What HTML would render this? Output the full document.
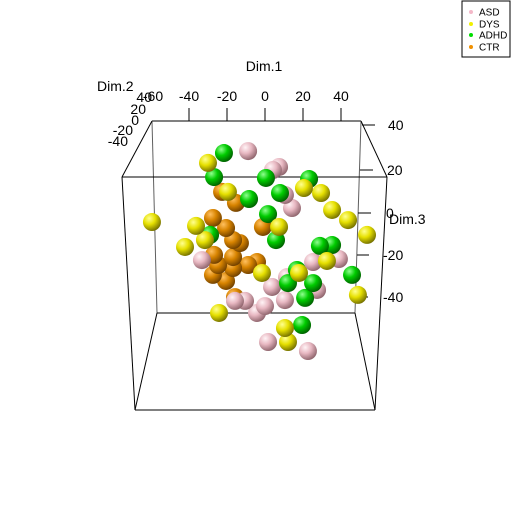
<!DOCTYPE html>
<html><head><meta charset="utf-8"><style>
html,body{margin:0;padding:0;background:#fff}
svg{display:block;font-family:"Liberation Sans",sans-serif}
</style></head><body>
<svg id="chart" width="512" height="512" viewBox="0 0 512 512">
<defs>
<radialGradient id="g-ASD" cx="0.35" cy="0.3" r="0.75"><stop offset="0" stop-color="#fff4f6"/><stop offset="0.45" stop-color="#e8b8c2"/><stop offset="1" stop-color="#8a6068"/></radialGradient>
<radialGradient id="g-DYS" cx="0.35" cy="0.3" r="0.75"><stop offset="0" stop-color="#ffff90"/><stop offset="0.45" stop-color="#e6e000"/><stop offset="1" stop-color="#6e6a00"/></radialGradient>
<radialGradient id="g-ADHD" cx="0.35" cy="0.3" r="0.75"><stop offset="0" stop-color="#90ff90"/><stop offset="0.45" stop-color="#00cc00"/><stop offset="1" stop-color="#005a00"/></radialGradient>
<radialGradient id="g-CTR" cx="0.35" cy="0.3" r="0.75"><stop offset="0" stop-color="#ffc060"/><stop offset="0.45" stop-color="#d88400"/><stop offset="1" stop-color="#6a3c00"/></radialGradient>
</defs>
<g fill="none">
<line x1="152" y1="121" x2="361" y2="121" stroke="#808080" stroke-width="2"/>
<line x1="152" y1="121" x2="157" y2="313" stroke="#606060"/>
<line x1="361" y1="121" x2="355" y2="313" stroke="#606060"/>
<line x1="157" y1="313" x2="355" y2="313" stroke="#000"/>
<line x1="122" y1="177" x2="387" y2="177" stroke="#000"/>
<line x1="122" y1="177" x2="135" y2="410" stroke="#000"/>
<line x1="387" y1="177" x2="375" y2="410" stroke="#000"/>
<line x1="135" y1="410" x2="375" y2="410" stroke="#000"/>
<line x1="152" y1="121" x2="122" y2="177" stroke="#000"/>
<line x1="361" y1="121" x2="387" y2="177" stroke="#000"/>
<line x1="157" y1="313" x2="135" y2="410" stroke="#000"/>
<line x1="355" y1="313" x2="375" y2="410" stroke="#000"/>
</g>
<g id="axes" font-size="14" fill="#000"></g>
<g id="points"></g>
<g>
<rect x="462" y="1" width="48" height="56" fill="#fff" stroke="#000"/>
<g font-size="10">
<circle cx="471" cy="12" r="2" fill="#f4b8c8"/><text x="479" y="15.5">ASD</text>
<circle cx="471" cy="24" r="2" fill="#f0f000"/><text x="479" y="27.5">DYS</text>
<circle cx="471" cy="35" r="2" fill="#00dd00"/><text x="479" y="38.5">ADHD</text>
<circle cx="471" cy="47" r="2" fill="#f09000"/><text x="479" y="50.5">CTR</text>
</g></g>
</svg>
<script>
const dim1 = [-21.6,-8.9,-30,4.2,7.4,-26.8,0.5,23.2,20.5,29.5,-22.6,-19.5,-8.4,7.9,10.5,-15.3,14.2,35.3,1.6,-59.5,-27.4,43.7,-36.3,-1.1,7.4,-20.5,-28.9,-31.6,5.8,-16.8,-13.2,53.7,28.9,35.3,-42.1,-26.8,-16.8,-33.2,25.3,32.6,38.9,-24.7,-16.8,-8.9,-4.2,-27.4,-1.6,16.8,17.9,11.6,45.8,-20.5,3.7,12.1,25.3,27.4,48.9,21.1,10.5,-15.8,-15.8,-10.5,0,-4.2,-24.2,19.5,10.5,1.6,12.1,22.6];
const dim3 = [27.9,28.8,23.3,20,21.4,16.7,16.3,15.8,11.6,9.3,9.8,9.8,6.5,9.3,8.4,4.7,2.3,1.4,-0.5,-4.2,-2.3,-3.3,-6,-6.5,-6.5,-7,-10.2,-12.6,-12.6,-12.6,-14,-10.2,-15.3,-14.9,-15.8,-19.5,-20.5,-21.9,-22.8,-22.3,-21.4,-24.2,-25.6,-24.2,-22.8,-28.8,-27.9,-26.5,-27.9,-29.8,-28.8,-31.6,-34.4,-32.6,-32.6,-35.8,-38.1,-39.5,-40.5,-39.1,-40.9,-40.9,-43.3,-46.5,-46.5,-52.1,-53.5,-60,-60,-64.2];
const groups = ["ADHD","ASD","DYS","ASD","ASD","ADHD","ADHD","ADHD","DYS","DYS","CTR","DYS","ADHD","ADHD","ASD","CTR","ASD","DYS","ADHD","DYS","CTR","DYS","DYS","CTR","DYS","CTR","ADHD","DYS","ADHD","CTR","CTR","DYS","ADHD","ADHD","DYS","CTR","CTR","ASD","ASD","DYS","ASD","CTR","CTR","CTR","CTR","CTR","DYS","ADHD","DYS","ASD","ADHD","CTR","ASD","ADHD","ADHD","ASD","DYS","ADHD","ASD","CTR","ASD","ASD","ASD","ASD","DYS","ADHD","DYS","ASD","DYS","ASD"];
const xTicks = [-60,-40,-20,0,20,40];
const yTicks = [40,20,0,-20,-40];
const zTicks = [40,20,0,-20,-40];
const xs = v => 265 + v*1.9;
const zs = v => 213 - v*2.15;
const NS="http://www.w3.org/2000/svg";
const ax=document.getElementById('axes');
function mk(tag,attrs,parent){const e=document.createElementNS(NS,tag);for(const k in attrs)e.setAttribute(k,attrs[k]);parent.appendChild(e);return e;}
xTicks.forEach(t=>{
  const x=xs(t);
  if(t>-60){const l=mk('line',{x1:x,y1:108,x2:x,y2:121,stroke:'#000'},ax);
  
  }
  const tx=mk('text',{x:t===-60?x+2:x,y:101,'text-anchor':'middle'},ax);tx.textContent=t;
  
  
});
yTicks.forEach((t,i)=>{
  const tx=mk('text',{x:[152,146,139,133,128][i],y:[102,114,125,135,146][i],'text-anchor':'end'},ax);tx.textContent=t;
  
  
});
zTicks.forEach((t,i)=>{
  const yy=[125,170,213,255,297][i];
  const l=mk('line',{x1:[362,360,358,357,356][i],y1:yy,x2:[375,373,371,369,368][i],y2:yy,stroke:'#000'},ax);
  
  
  const tx=mk('text',{x:[388,387,386,383,383][i],y:yy+5},ax);tx.textContent=t;
  
  
});
const t1=mk('text',{x:264,y:71,'text-anchor':'middle'},ax);t1.textContent='Dim.1';


const t2=mk('text',{x:97,y:91},ax);t2.textContent='Dim.2';


const t3=mk('text',{x:389,y:224},ax);t3.textContent='Dim.3';


const pg=document.getElementById('points');
const rank={CTR:0,ASD:1,ADHD:2,DYS:3};
const order=dim1.map((_,i)=>i).sort((a,b)=>rank[groups[a]]-rank[groups[b]]||b-a);
order.forEach(i=>{
  const c=mk('circle',{cx:xs(dim1[i]),cy:zs(dim3[i]),r:9,fill:'url(#g-'+groups[i]+')'},pg);
  
  
});
</script>
</body></html>
